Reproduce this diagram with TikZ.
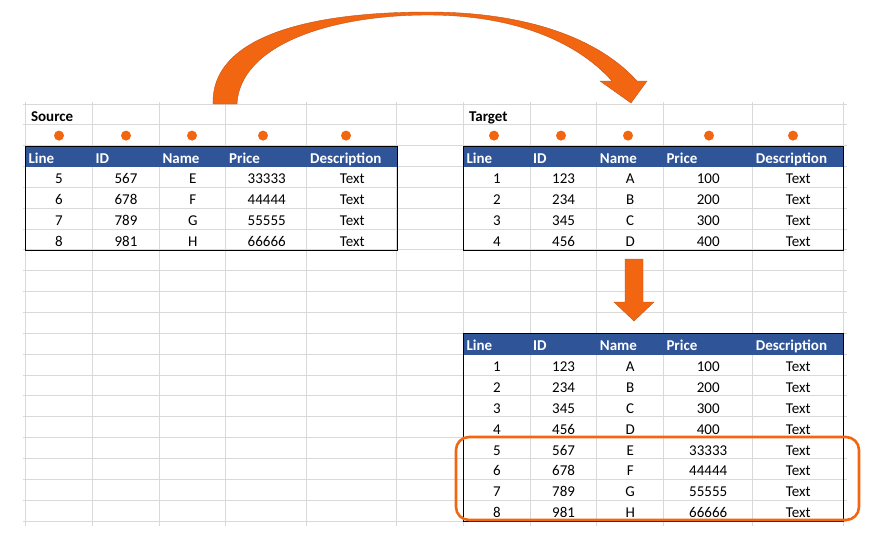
\documentclass[tikz,border=0pt]{standalone}
\usepackage{fontspec}
\setmainfont{Carlito}
\usetikzlibrary{matrix,positioning}
\definecolor{headblue}{RGB}{47,84,151}
\definecolor{gridgray}{RGB}{217,217,217}
\definecolor{flow}{RGB}{242,101,17}
\definecolor{flowedge}{RGB}{196,84,26}
\newcommand{\cellfont}{\fontsize{15}{18}\selectfont}
\tikzset{
sheet/.style={
  matrix of nodes,
  anchor=north west,
  inner sep=0pt,
  column sep=0pt,
  row sep=0pt,
  nodes={inner xsep=3pt, inner ysep=0pt,
    text height=16.85pt, text depth=4pt,
    align=center, font=\cellfont},
  row 1/.style={nodes={fill=headblue, text=white,
    align=left, font=\cellfont\bfseries}}
  }
}
\tikzset{
  colw/.style n args={5}{
    column 1/.style={nodes={text width=#1}},
    column 2/.style={nodes={text width=#2}},
    column 3/.style={nodes={text width=#3}},
    column 4/.style={nodes={text width=#4}},
    column 5/.style={nodes={text width=#5}}
  },
  gridline/.style={draw=gridgray, line width=1pt},
  tableedge/.style={draw=black, line width=0.9pt},
  blockarrow/.style={fill=flow, draw=flowedge, line width=0.4pt}
}

\begin{document}
\begin{tikzpicture}[x=1pt,y=-1pt]
\useasboundingbox (0,0) rectangle (877,536);

% sheet grid
\foreach \k in {0,...,20}
  \draw[gridline] (23,{104+20.85*\k}) -- (847,{104+20.85*\k});
\foreach \x in {25.3,92.3,159,225.7,306.7,396.7,463.3,530,596.7,663.3,752.7,843.3}
  \draw[gridline] (\x,102) -- (\x,526);

% titles and markers
\node[anchor=base west, font=\cellfont\bfseries] (srclabel) at (27.5,121) {Source};
\node[anchor=base west, font=\cellfont\bfseries] (tgtlabel) at (465.5,121) {Target};
\foreach \x in {59,126,192,263,346,494,561,628,709,793}
  \fill[flow] (\x,135.6) circle (5pt);

\matrix[sheet, colw={61pt}{61pt}{60.7pt}{75pt}{84pt}] (src) at (25.3,146)
{
  Line & ID & Name & Price & Description \\
  5 & 567 & E & 33333 & Text \\
  6 & 678 & F & 44444 & Text \\
  7 & 789 & G & 55555 & Text \\
  8 & 981 & H & 66666 & Text \\
};
\draw[tableedge] (src.north west) rectangle (src.south east);

\matrix[sheet, colw={60.7pt}{60.7pt}{60.6pt}{83.4pt}{84.6pt}] (tgt) at (463.3,146)
{
  Line & ID & Name & Price & Description \\
  1 & 123 & A & 100 & Text \\
  2 & 234 & B & 200 & Text \\
  3 & 345 & C & 300 & Text \\
  4 & 456 & D & 400 & Text \\
};
\draw[tableedge] (tgt.north west) rectangle (tgt.south east);

\matrix[sheet, colw={60.7pt}{60.7pt}{60.6pt}{83.4pt}{84.6pt}] (res) at (463.3,333.7)
{
  Line & ID & Name & Price & Description \\
  1 & 123 & A & 100 & Text \\
  2 & 234 & B & 200 & Text \\
  3 & 345 & C & 300 & Text \\
  4 & 456 & D & 400 & Text \\
  5 & 567 & E & 33333 & Text \\
  6 & 678 & F & 44444 & Text \\
  7 & 789 & G & 55555 & Text \\
  8 & 981 & H & 66666 & Text \\
};
\draw[tableedge] (res.north west) rectangle (res.south east);

% curved arrow source -> target
\draw[blockarrow] (213,104) .. controls (211,40) and (300,12) .. (428,12)
  .. controls (530,12) and (600,40) .. (637,81) -- (647,81) -- (631,103)
  -- (600,81) -- (612,81) .. controls (580,45) and (520,15) .. (428,15)
  .. controls (330,15) and (240,45) .. (237,104) -- cycle;

% down arrow target -> result
\draw[blockarrow] (625,259) -- (643,259) -- (643,302) -- (654,302)
  -- (634,321) -- (614,302) -- (625,302) -- cycle;

% appended rows
\draw[draw=flow, line width=2.6pt, rounded corners=13pt]
  (456,437) rectangle (859,520);
\end{tikzpicture}
\end{document}
